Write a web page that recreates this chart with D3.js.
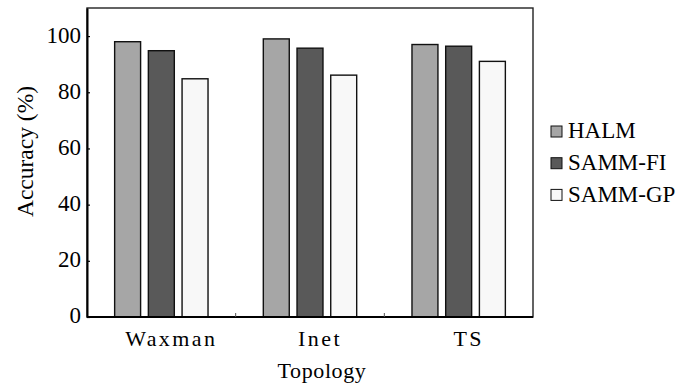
<!DOCTYPE html>
<html>
<head>
<meta charset="utf-8">
<script src="https://cdn.jsdelivr.net/npm/d3@7"></script>
<style>
  html, body { margin: 0; padding: 0; background: #fff; }
  svg { display: block; }
</style>
</head>
<body>
<svg id="chart" width="692" height="385"></svg>
<script>
const categories = ["Waxman", "Inet", "TS"];
const seriesNames = ["HALM", "SAMM-FI", "SAMM-GP"];
const HALM = [98.0, 99.0, 97.0];
const SAMM_FI = [94.8, 95.7, 96.4];
const SAMM_GP = [84.8, 86.1, 91.0];
const seriesValues = [HALM, SAMM_FI, SAMM_GP];
const yTicks = [0, 20, 40, 60, 80, 100];
const colors = ["#a6a6a6", "#595959", "#f8f8f8"];

const FONT = '"Liberation Serif", "Times New Roman", Times, serif';
const svg = d3.select("#chart");
const m = { left: 87, top: 8, right: 533, bottom: 317 };

const x0 = d3.scaleBand().domain(categories).range([m.left, m.right]).padding(0);
const x1 = d3.scaleBand().domain(seriesNames).range([0, x0.bandwidth()])
  .paddingInner(0.23).paddingOuter(0.82);
const y = d3.scaleLinear().domain([0, 110]).range([m.bottom, m.top]);

// bars
const groups = svg.append("g").selectAll("g").data(categories).join("g")
  .attr("transform", d => `translate(${x0(d)},0)`);
groups.selectAll("rect")
  .data((c, ci) => seriesNames.map((s, si) => ({ s, si, v: seriesValues[si][ci] })))
  .join("rect")
  .attr("x", d => x1(d.s))
  .attr("y", d => y(d.v))
  .attr("width", x1.bandwidth())
  .attr("height", d => y(0) - y(d.v))
  .attr("fill", d => colors[d.si])
  .attr("stroke", "#111")
  .attr("stroke-width", 1.4);

// frame
svg.append("rect")
  .attr("x", m.left).attr("y", m.top)
  .attr("width", m.right - m.left).attr("height", m.bottom - m.top)
  .attr("fill", "none").attr("stroke", "#222").attr("stroke-width", 1.4);

// y axis
const yAxis = svg.append("g").attr("transform", `translate(${m.left},0)`)
  .call(d3.axisLeft(y).tickValues(yTicks).tickSizeInner(-3).tickSizeOuter(0).tickPadding(6));
yAxis.attr("font-family", null).attr("font-size", null);
yAxis.select(".domain").attr("stroke", "#000").attr("stroke-width", 2);
yAxis.selectAll(".tick line").attr("stroke", "#000").attr("stroke-width", 1.2);
yAxis.selectAll(".tick text")
  .style("font-family", FONT).style("font-size", "23px")
  .attr("fill", "#000").attr("dy", "0.26em");

// x axis line
svg.append("line")
  .attr("x1", m.left).attr("x2", m.right).attr("y1", m.bottom).attr("y2", m.bottom)
  .attr("stroke", "#000").attr("stroke-width", 2);

// x boundary ticks (between groups)
svg.append("g").selectAll("line").data(categories.slice(1)).join("line")
  .attr("x1", d => x0(d)).attr("x2", d => x0(d))
  .attr("y1", m.bottom).attr("y2", m.bottom - 4)
  .attr("stroke", "#555").attr("stroke-width", 1);

// category labels
svg.append("g").selectAll("text").data(categories).join("text")
  .attr("x", d => x0(d) + x0.bandwidth() / 2 + 10)
  .attr("y", 346)
  .attr("text-anchor", "middle")
  .style("font-family", FONT).style("font-size", "22px")
  .style("letter-spacing", "2.4px")
  .text(d => d);

// axis titles
svg.append("text")
  .attr("x", 322).attr("y", 378)
  .attr("text-anchor", "middle")
  .style("font-family", FONT).style("font-size", "22px")
  .style("letter-spacing", "0.6px")
  .text("Topology");

svg.append("text")
  .attr("transform", "translate(33,151.5) rotate(-90)")
  .attr("text-anchor", "middle")
  .style("font-family", FONT).style("font-size", "23.5px")
  .text("Accuracy (%)");

// legend
const legend = svg.append("g").selectAll("g").data(seriesNames).join("g")
  .attr("transform", (d, i) => `translate(551,${126 + i * 31.7})`);
legend.append("rect")
  .attr("width", 11).attr("height", 11)
  .attr("fill", (d, i) => colors[i])
  .attr("stroke", "#111").attr("stroke-width", 1);
legend.append("text")
  .attr("x", 17).attr("y", 12.3)
  .style("font-family", FONT).style("font-size", "23px")
  .text(d => d);
</script>
</body>
</html>
